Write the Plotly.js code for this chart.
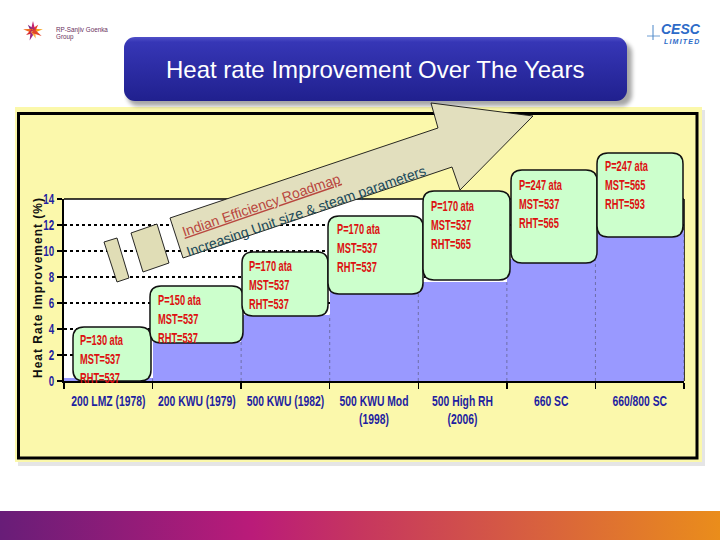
<!DOCTYPE html>
<html>
<head>
<meta charset="utf-8">
<script src="https://cdn.plot.ly/plotly-3.0.1.min.js"></script>
<style>html,body{margin:0;padding:0;background:#fff}#chart{width:720px;height:540px}</style>
</head>
<body>
<div id="chart"></div>
<script>
// ---------- data ----------
const categories = ['200 LMZ (1978)', '200 KWU (1979)', '500 KWU (1982)', '500 KWU Mod<br>(1998)', '500 High RH<br>(2006)', '660 SC', '660/800 SC'];
const improvement = [0.2, 3.0, 5.1, 7.0, 7.6, 9.4, 11.6];
const pressureAta = ['130', '150', '170', '170', '170', '247', '247'];
const mstDeg = ['537', '537', '537', '537', '537', '537', '565'];
const rhtDeg = ['537', '537', '537', '537', '565', '565', '593'];
const yTicks = [0, 2, 4, 6, 8, 10, 12, 14];

// ---------- layout helpers (pixel -> paper) ----------
const W = 720, H = 540;
const px = x => x / W;
const py = y => 1 - y / H;
const SANS = 'Liberation Sans, Arial, sans-serif';
const NAVY = '#1F1FA0';
const RED = '#DD1111';

function poly(pts) {
  return 'M ' + pts.map(p => px(p[0]).toFixed(5) + ',' + py(p[1]).toFixed(5)).join(' L ') + ' Z';
}
function roundRect(x0, y0, x1, y1, r) {
  const P = (x, y) => px(x).toFixed(5) + ',' + py(y).toFixed(5);
  return 'M ' + P(x0 + r, y0) + ' L ' + P(x1 - r, y0) + ' Q ' + P(x1, y0) + ' ' + P(x1, y0 + r) +
    ' L ' + P(x1, y1 - r) + ' Q ' + P(x1, y1) + ' ' + P(x1 - r, y1) +
    ' L ' + P(x0 + r, y1) + ' Q ' + P(x0, y1) + ' ' + P(x0, y1 - r) +
    ' L ' + P(x0, y0 + r) + ' Q ' + P(x0, y0) + ' ' + P(x0 + r, y0) + ' Z';
}

// label-box placement (pixels): [x0, y0, x1, y1], text anchor [x, firstLineY]
const boxPx = [[73, 327, 151, 381], [150, 286, 243, 343], [242, 252, 328, 316], [328, 216, 423, 294],
               [423, 191, 510, 280], [511, 170, 597, 263], [597, 153, 683, 237]];
const boxTextPx = [[78, 339], [156, 299], [247, 265], [335, 229], [429, 205], [517, 185], [603, 166]];

const shapes = [];
const annotations = [];
const boxAnnIdx = [];

// chart panel (below)
shapes.push({type: 'rect', xref: 'paper', yref: 'paper', x0: px(18), x1: px(705), y0: py(466), y1: py(110),
  fillcolor: 'rgba(0,0,0,0.10)', line: {width: 0}, layer: 'below'});
shapes.push({type: 'rect', xref: 'paper', yref: 'paper', x0: px(15), x1: px(702), y0: py(462), y1: py(107),
  fillcolor: '#FBF8AB', line: {width: 0}, layer: 'below'});
shapes.push({type: 'rect', xref: 'paper', yref: 'paper', x0: px(64), x1: px(684), y0: py(381), y1: py(199),
  fillcolor: '#FFFFFF', line: {width: 0}, layer: 'below'});
shapes.push({type: 'line', xref: 'paper', yref: 'paper', x0: px(64), x1: px(684), y0: py(199), y1: py(199),
  line: {color: '#000', width: 1.5}, layer: 'below'});
shapes.push({type: 'line', xref: 'paper', yref: 'paper', x0: px(684), x1: px(684), y0: py(199), y1: py(381),
  line: {color: '#000', width: 1.5}, layer: 'below'});
shapes.push({type: 'rect', xref: 'paper', yref: 'paper', x0: px(18.5), x1: px(697), y0: py(458), y1: py(113.5),
  fillcolor: 'rgba(0,0,0,0)', line: {color: '#000', width: 3}, layer: 'below'});

// dotted category separators over the bars
for (let i = 1; i <= categories.length; i++) {
  const top = i < categories.length ? Math.min(improvement[i - 1], improvement[i]) : improvement[i - 1];
  shapes.push({type: 'line', xref: 'x', yref: 'y', x0: i - 0.5, x1: i - 0.5, y0: 0, y1: top,
    line: {color: '#6E6EA8', width: 1, dash: 'dot'}, layer: 'above'});
}

// label boxes + texts
boxPx.forEach((b, i) => {
  shapes.push({type: 'path', xref: 'paper', yref: 'paper', path: roundRect(b[0], b[1], b[2], b[3], 11),
    fillcolor: '#CCFFCC', line: {color: '#111', width: 1.5}, layer: 'above'});
  const t = boxTextPx[i];
  boxAnnIdx.push(annotations.length);
  annotations.push({xref: 'paper', yref: 'paper', x: px(t[0]), y: py(t[1] - 9.5), xanchor: 'left', yanchor: 'top',
    align: 'left', showarrow: false,
    text: 'P=' + pressureAta[i] + ' ata<br>MST=' + mstDeg[i] + '<br>RHT=' + rhtDeg[i],
    font: {family: SANS, size: 14.5, color: RED, weight: 'bold'}});
});

// roadmap arrow
shapes.push({type: 'path', xref: 'paper', yref: 'paper',
  path: poly([[170, 218], [438, 128], [431, 103], [533, 116], [460, 190], [452, 167], [183, 258]]),
  fillcolor: '#E2DFBE', line: {color: '#111', width: 0.9}, layer: 'above'});
shapes.push({type: 'path', xref: 'paper', yref: 'paper',
  path: poly([[131, 233], [157, 224], [169, 263], [143, 272]]),
  fillcolor: '#E0DDB6', line: {color: '#111', width: 0.9}, layer: 'above'});
shapes.push({type: 'path', xref: 'paper', yref: 'paper',
  path: poly([[104, 242], [117, 238], [129, 278], [117, 282]]),
  fillcolor: '#E0DDB6', line: {color: '#111', width: 0.9}, layer: 'above'});

annotations.push({xref: 'paper', yref: 'paper', x: px(261), y: py(205), xanchor: 'center', yanchor: 'middle',
  textangle: -19, showarrow: false,
  text: 'Indian Efficiency Roadmap', font: {family: SANS, size: 14, color: '#B9473F', lineposition: 'under'}});
annotations.push({xref: 'paper', yref: 'paper', x: px(306), y: py(211), xanchor: 'center', yanchor: 'middle',
  textangle: -19, showarrow: false,
  text: 'Increasing Unit size & steam parameters', font: {family: SANS, size: 14, color: '#1A4A5A'}});

// y title
annotations.push({xref: 'paper', yref: 'paper', x: px(38), y: py(288), xanchor: 'center', yanchor: 'middle',
  textangle: -90, showarrow: false,
  text: '<span style="letter-spacing:1px">Heat Rate Improvement (%)</span>',
  font: {family: SANS, size: 12, color: '#111', weight: 'bold'}});

// slide title
annotations.push({xref: 'paper', yref: 'paper', x: px(375), y: py(69), xanchor: 'center', yanchor: 'middle',
  showarrow: false,
  text: 'Heat rate Improvement Over The Years', font: {family: SANS, size: 24, color: '#FFFFFF'}});

// left logo (star burst)
const rayColors = ['#F7A21B', '#E8412C', '#C4206E', '#7E2B84', '#F26B21', '#D7282F', '#9C2A86', '#FBB040', '#E0452B'];
const cx = 33, cy = 31;
rayColors.forEach((c, k) => {
  const a = (k * 40 + 10) * Math.PI / 180;
  const r = (k % 2 === 0) ? 10 : 8;
  const tip = [cx + r * Math.cos(a), cy - r * Math.sin(a)];
  const pa = [cx + 2.4 * Math.sin(a), cy + 2.4 * Math.cos(a)];
  const pb = [cx - 2.4 * Math.sin(a), cy - 2.4 * Math.cos(a)];
  shapes.push({type: 'path', xref: 'paper', yref: 'paper', path: poly([pa, tip, pb]),
    fillcolor: c, line: {width: 0}, layer: 'above'});
});
annotations.push({xref: 'paper', yref: 'paper', x: px(54), y: py(30), xanchor: 'left', yanchor: 'middle', showarrow: false,
  text: 'RP-Sanjiv Goenka', font: {family: SANS, size: 6.3, color: '#6A3060'}});
annotations.push({xref: 'paper', yref: 'paper', x: px(54), y: py(37.5), xanchor: 'left', yanchor: 'middle', showarrow: false,
  text: 'Group', font: {family: SANS, size: 6.3, color: '#6A3060'}});

// right logo
shapes.push({type: 'line', xref: 'paper', yref: 'paper', x0: px(653), x1: px(653), y0: py(25), y1: py(40),
  line: {color: '#4A86C8', width: 1}, layer: 'above'});
shapes.push({type: 'line', xref: 'paper', yref: 'paper', x0: px(647), x1: px(660), y0: py(36), y1: py(36),
  line: {color: '#4A86C8', width: 0.8}, layer: 'above'});
annotations.push({xref: 'paper', yref: 'paper', x: px(681), y: py(29.5), xanchor: 'center', yanchor: 'middle', showarrow: false,
  text: 'CESC', font: {family: SANS, size: 14, color: '#2D6BC8', weight: 'bold', style: 'italic'}});
annotations.push({xref: 'paper', yref: 'paper', x: px(682), y: py(41), xanchor: 'center', yanchor: 'middle', showarrow: false,
  text: '<span style="letter-spacing:1.2px">LIMITED</span>', font: {family: SANS, size: 7, color: '#2D6BC8', weight: 'bold', style: 'italic'}});

// gradient images (title box, bottom band)
const titleSvg = "<svg xmlns='http://www.w3.org/2000/svg' width='515' height='76' viewBox='0 0 515 76'>" +
  "<defs><linearGradient id='b' x1='0' y1='0' x2='0' y2='1'><stop offset='0' stop-color='#5050C8'/>" +
  "<stop offset='0.08' stop-color='#3636B6'/><stop offset='1' stop-color='#20208E'/></linearGradient>" +
  "<filter id='f' x='-5%' y='-20%' width='110%' height='150%'><feGaussianBlur stdDeviation='2.2'/></filter></defs>" +
  "<rect x='3' y='5' width='505' height='64' rx='11' fill='#000' opacity='0.35' filter='url(#f)'/>" +
  "<rect x='0' y='0' width='503' height='64' rx='11' fill='url(#b)'/></svg>";
const bandSvg = "<svg xmlns='http://www.w3.org/2000/svg' width='720' height='29' viewBox='0 0 720 29' preserveAspectRatio='none'>" +
  "<defs><linearGradient id='g' x1='0' y1='0' x2='1' y2='0'><stop offset='0' stop-color='#681D78'/>" +
  "<stop offset='0.35' stop-color='#BA1B79'/><stop offset='0.5' stop-color='#C6365F'/>" +
  "<stop offset='0.72' stop-color='#D65C42'/><stop offset='1' stop-color='#EA8D1B'/></linearGradient></defs>" +
  "<rect width='720' height='29' fill='url(#g)'/></svg>";
const uri = s => 'data:image/svg+xml;charset=utf-8,' + encodeURIComponent(s);

const images = [
  {source: uri(titleSvg), xref: 'paper', yref: 'paper', x: px(124), y: py(37), sizex: 515 / W, sizey: 76 / H,
   xanchor: 'left', yanchor: 'top', sizing: 'stretch', layer: 'above'},
  {source: uri(bandSvg), xref: 'paper', yref: 'paper', x: 0, y: py(511), sizex: 1, sizey: 29 / H,
   xanchor: 'left', yanchor: 'top', sizing: 'stretch', layer: 'above'}
];

const trace = {
  type: 'bar', x: categories, y: improvement,
  marker: {color: '#9999FF', line: {width: 0}},
  hoverinfo: 'skip', showlegend: false
};

const layout = {
  width: W, height: H,
  margin: {l: 0, r: 0, t: 0, b: 0},
  paper_bgcolor: '#FFFFFF', plot_bgcolor: 'rgba(0,0,0,0)',
  bargap: 0,
  showlegend: false,
  xaxis: {
    type: 'category', categoryorder: 'array', categoryarray: categories,
    range: [-0.5, categories.length - 0.5], domain: [px(64), px(684)], anchor: 'y',
    tickson: 'boundaries', ticks: 'outside', ticklen: 6, tickwidth: 1.5, tickcolor: '#000',
    ticklabelstandoff: 6,
    showline: true, linecolor: '#000', linewidth: 2, showgrid: false, zeroline: false,
    tickfont: {family: SANS, size: 14, color: NAVY, weight: 'bold'}, tickangle: 0, fixedrange: true
  },
  yaxis: {
    range: [0, 14], domain: [py(381), py(199)], anchor: 'x',
    tickmode: 'array', tickvals: yTicks, ticktext: yTicks.map(String),
    ticks: 'outside', ticklen: 5, tickwidth: 1.5, tickcolor: '#000',
    showline: true, linecolor: '#000', linewidth: 2,
    showgrid: true, gridcolor: '#000', gridwidth: 1.5, griddash: 'dot', zeroline: false,
    tickfont: {family: SANS, size: 14, color: NAVY, weight: 'bold'}, fixedrange: true
  },
  shapes: shapes,
  annotations: annotations,
  images: images
};

// horizontally condense a text element (emulates the narrow typeface of the original)
function squeeze(el, sx, mode) {
  if (!el) return;
  const b = el.getBBox();
  const ox = mode === 'left' ? b.x : mode === 'right' ? b.x + b.width : b.x + b.width / 2;
  const oy = b.y + b.height / 2;
  const prev = el.getAttribute('transform') || '';
  el.setAttribute('transform', prev + ' translate(' + ox + ',' + oy + ') scale(' + sx + ',1) translate(' + (-ox) + ',' + (-oy) + ')');
}

Plotly.newPlot('chart', [trace], layout, {displayModeBar: false, staticPlot: true}).then(gd => {
  gd.querySelectorAll('.xtick text').forEach(el => squeeze(el, 0.74, 'center'));
  gd.querySelectorAll('.ytick text').forEach(el => squeeze(el, 0.7, 'right'));
  boxAnnIdx.forEach(i => squeeze(gd.querySelector('g.annotation[data-index="' + i + '"] text'), 0.64, 'left'));
});
</script>
</body>
</html>
